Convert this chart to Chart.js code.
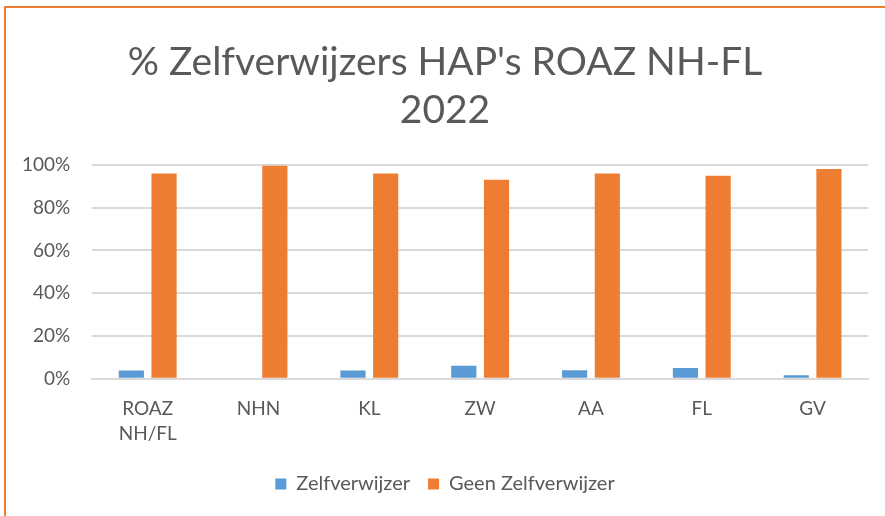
<!DOCTYPE html>
<html>
<head>
<meta charset="utf-8">
<script src="https://cdn.jsdelivr.net/npm/chart.js@4"></script>
<style>
    html, body { margin: 0; padding: 0; background: #fff; }
    .frame {
        position: absolute;
        left: 4px;
        top: 6px;
        width: 879px;
        height: 508px;
        border-top: 2px solid #ed7d31;
        border-left: 2px solid #ed7d31;
    }
    .frame canvas { display: block; }
</style>
</head>
<body>
<div class="frame">
    <canvas id="chart" width="879" height="508"></canvas>
</div>
<script>
const categories = [['ROAZ', 'NH/FL'], 'NHN', 'KL', 'ZW', 'AA', 'FL', 'GV'];
const zelfverwijzer = [3.8, 0, 3.8, 6.1, 3.9, 5.0, 1.6];
const geenZelfverwijzer = [96.0, 99.6, 96.0, 93.1, 96.0, 95.0, 98.1];
const yTicks = [0, 20, 40, 60, 80, 100];

const grey = '#595959';
const fontFamily = 'Lato, "Open Sans", sans-serif';

new Chart(document.getElementById('chart'), {
    type: 'bar',
    data: {
        labels: categories,
        datasets: [
            {
                label: 'Zelfverwijzer',
                data: zelfverwijzer,
                backgroundColor: '#5b9bd5',
            },
            {
                label: 'Geen Zelfverwijzer',
                data: geenZelfverwijzer,
                backgroundColor: '#ed7d31',
            },
        ],
    },
    options: {
        responsive: false,
        animation: false,
        datasets: {
            bar: {
                categoryPercentage: 0.59,
                barPercentage: 0.77,
            },
        },
        layout: {
            padding: { left: 16, right: 17, top: 30, bottom: 12 },
        },
        plugins: {
            title: {
                display: true,
                text: ["% Zelfverwijzers HAP's ROAZ NH-FL", '2022'],
                color: grey,
                font: { family: fontFamily, size: 39, weight: 'normal', lineHeight: 1.23 },
                padding: { top: 0, bottom: 31 },
            },
            legend: {
                position: 'bottom',
                labels: {
                    color: grey,
                    font: { family: fontFamily, size: 20 },
                    boxWidth: 11,
                    boxHeight: 11,
                    padding: 18,
                },
            },
            tooltip: { enabled: false },
        },
        scales: {
            x: {
                grid: { display: false },
                border: { color: '#d9d9d9', width: 2 },
                ticks: {
                    color: grey,
                    font: { family: fontFamily, size: 19, lineHeight: 1.35 },
                    maxRotation: 0,
                    padding: 9,
                },
            },
            y: {
                min: 0,
                max: 100,
                afterBuildTicks: (axis) => {
                    axis.ticks = yTicks.map((v) => ({ value: v }));
                },
                // transparent tick marks keep the gap left of the gridlines
                grid: { color: '#d9d9d9', lineWidth: 2, tickLength: 22, tickColor: 'transparent' },
                border: { display: false },
                ticks: {
                    color: grey,
                    font: { family: fontFamily, size: 19 },
                    padding: 0,
                    callback: (v) => v + '%',
                },
            },
        },
    },
});
</script>
</body>
</html>
